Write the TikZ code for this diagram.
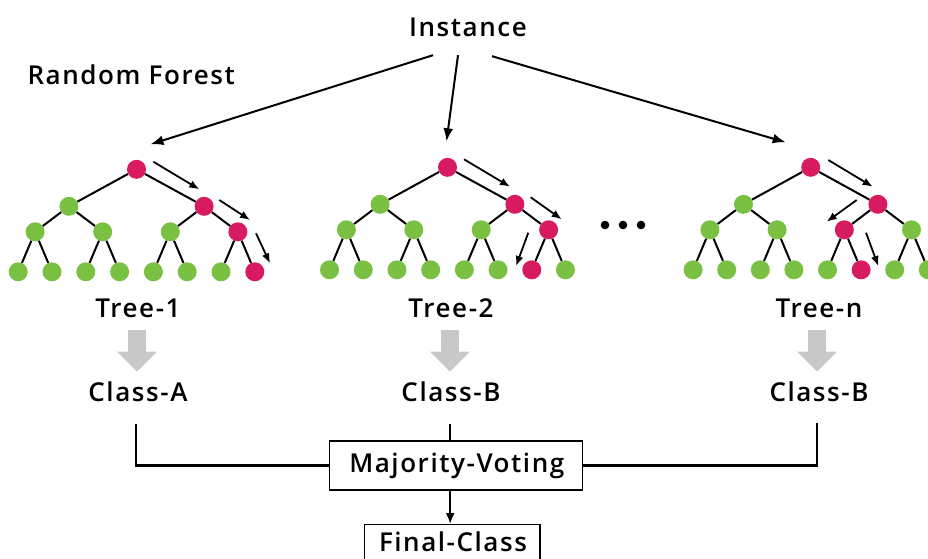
\documentclass[tikz,border=0pt]{standalone}
\usepackage{fontspec}
\setmainfont{Open Sans}[LetterSpace=6, BoldFont={Open Sans Semibold}]
\usetikzlibrary{arrows.meta,calc}
\definecolor{rfred}{HTML}{D81B60}
\definecolor{rfgreen}{HTML}{7AC143}
\definecolor{rfgray}{HTML}{C8C8C8}
\tikzset{
  rfnode/.style={circle, inner sep=0pt, minimum size=19pt, draw=none},
  treeedge/.style={line width=2pt, black},
  patharrow/.style={line width=1.8pt, -{Latex[length=10pt,width=8pt]}},
  iarrow/.style={line width=2pt, -{Latex[length=13pt,width=10pt]}},
  lbl/.style={font=\fontsize{26}{30}\selectfont\bfseries, inner sep=0pt, text height=19pt, text depth=0pt, anchor=base},
  votebox/.style={draw, line width=1.3pt, font=\fontsize{26}{30}\selectfont\bfseries, inner sep=0pt, text height=19pt, text depth=5pt},
  grayarrow/.style={rfgray, line width=18pt, -{Triangle[length=20pt,width=40pt,line width=0pt]}},
  joinline/.style={line width=2.3pt},
  ellipsisdot/.style={circle, fill=black, inner sep=0pt, minimum size=8.6pt},
}
\newcommand\rftree[5]{%
  \foreach \i/\px/\py in {1/0/0,2/-2/37,3/2/37,4/-3/62.5,5/-1/62.5,6/1/62.5,7/3/62.5,8/-3.5/102.5,9/-2.5/102.5,10/-1.5/102.5,11/-0.5/102.5,12/0.5/102.5,13/1.5/102.5,14/2.5/102.5,15/3.5/102.5}{%
    \xdef\rfcol{rfgreen}%
    \foreach \r in {#5}{\ifnum\r=\i\relax\xdef\rfcol{rfred}\fi}%
    \node[rfnode, fill=\rfcol] (#1n\i) at ({#2+(\px)*#4},{#3+\py}) {};
  }%
  \foreach \p/\c in {1/2,1/3,2/4,2/5,3/6,3/7,4/8,4/9,5/10,5/11,6/12,6/13,7/14,7/15}{\draw[treeedge] (#1n\p) -- (#1n\c);}%
}
\begin{document}
\begin{tikzpicture}[x=1pt, y=-1pt]
\useasboundingbox (0,0) rectangle (928,558);

% trees
\rftree{ta}{136.5}{169.3}{33.8}{1,3,7,15}
\rftree{tb}{447.5}{167.3}{33.7}{1,3,7,14}
\rftree{tc}{810.7}{167.3}{33.6}{1,3,6,13}

% titles
\node[lbl] (inst) at (468,36.7) {Instance};
\node[lbl, anchor=base west] (rf) at (27.3,84.3) {Random Forest};

% instance arrows
\draw[iarrow] ([shift={(-35,18.3)}]inst.south) -- ([shift={(14,-25)}]tan1.center);
\draw[iarrow] ([shift={(-10,18.3)}]inst.south) -- ([shift={(-1,-26)}]tbn1.center);
\draw[iarrow] ([shift={(24,19.3)}]inst.south) -- ([shift={(-25,-25)}]tcn1.center);

% path arrows tree 1
\coordinate (pa1s) at (153.3,161.7); \coordinate (pa1e) at (199.3,189.3);
\coordinate (pa2s) at (219.3,200);   \coordinate (pa2e) at (250,220);
\coordinate (pa3s) at (256,233.3);   \coordinate (pa3e) at (270,263.3);
\draw[patharrow] (pa1s) -- (pa1e);
\draw[patharrow] (pa2s) -- (pa2e);
\draw[patharrow] (pa3s) -- (pa3e);
% path arrows tree 2
\coordinate (pb1s) at (464,159.3);   \coordinate (pb1e) at (510,186.7);
\coordinate (pb2s) at (530.7,197.3); \coordinate (pb2e) at (561.7,219.3);
\coordinate (pb3s) at (528.3,232.7); \coordinate (pb3e) at (516,266);
\draw[patharrow] (pb1s) -- (pb1e);
\draw[patharrow] (pb2s) -- (pb2e);
\draw[patharrow] (pb3s) -- (pb3e);
% path arrows tree n
\coordinate (pc1s) at (828.3,160);   \coordinate (pc1e) at (872.7,186.7);
\coordinate (pc2s) at (856.7,200);   \coordinate (pc2e) at (826.7,221.7);
\coordinate (pc3s) at (866,232.7);   \coordinate (pc3e) at (878.3,266);
\draw[patharrow] (pc1s) -- (pc1e);
\draw[patharrow] (pc2s) -- (pc2e);
\draw[patharrow] (pc3s) -- (pc3e);

% ellipsis
\node[ellipsisdot] (dot1) at (605,225) {};
\node[ellipsisdot] (dot2) at (623,225) {};
\node[ellipsisdot] (dot3) at (641,225) {};

% tree labels and classes
\node[lbl] (tl1) at (138,317) {Tree-1};
\node[lbl] (tl2) at (451,317) {Tree-2};
\node[lbl] (tln) at (819,317) {Tree-n};
\node[lbl] (cl1) at (138,401) {Class-A};
\node[lbl] (cl2) at (451,401) {Class-B};
\node[lbl] (cln) at (819,401) {Class-B};

\draw[grayarrow, shorten <=12.3pt, shorten >=10.3pt] ([xshift=-1pt]tl1.south) -- ([xshift=-1pt]cl1.north);
\draw[grayarrow, shorten <=12.3pt, shorten >=10.3pt] ([xshift=-1pt]tl2.south) -- ([xshift=-1pt]cl2.north);
\draw[grayarrow, shorten <=12.3pt, shorten >=10.3pt] ([xshift=-2pt]tln.south) -- ([xshift=-2pt]cln.north);

% voting
\node[votebox, minimum width=253.4pt, minimum height=49pt] (mv) at (456,465.5) {Majority-Voting\kern-1.6pt};
\node[votebox, minimum width=175.7pt, minimum height=40pt] (fc) at (452.2,544.7) {Final-Class\kern-1.6pt};

\draw[joinline, shorten <=23pt] ([xshift=-2.3pt]cl1.south) |- (mv.west);
\draw[joinline, shorten <=22.3pt] ([xshift=-1pt]cl2.south) -- ([xshift=-1pt]cl2.south |- mv.north);
\draw[joinline, shorten <=22pt] ([xshift=-1.7pt]cln.south) |- (mv.east);
\draw[line width=2pt, -{Latex[length=11pt,width=9pt]}] ([xshift=-2pt]fc.north |- mv.south) -- ([xshift=-2pt]fc.north);
\end{tikzpicture}
\end{document}
